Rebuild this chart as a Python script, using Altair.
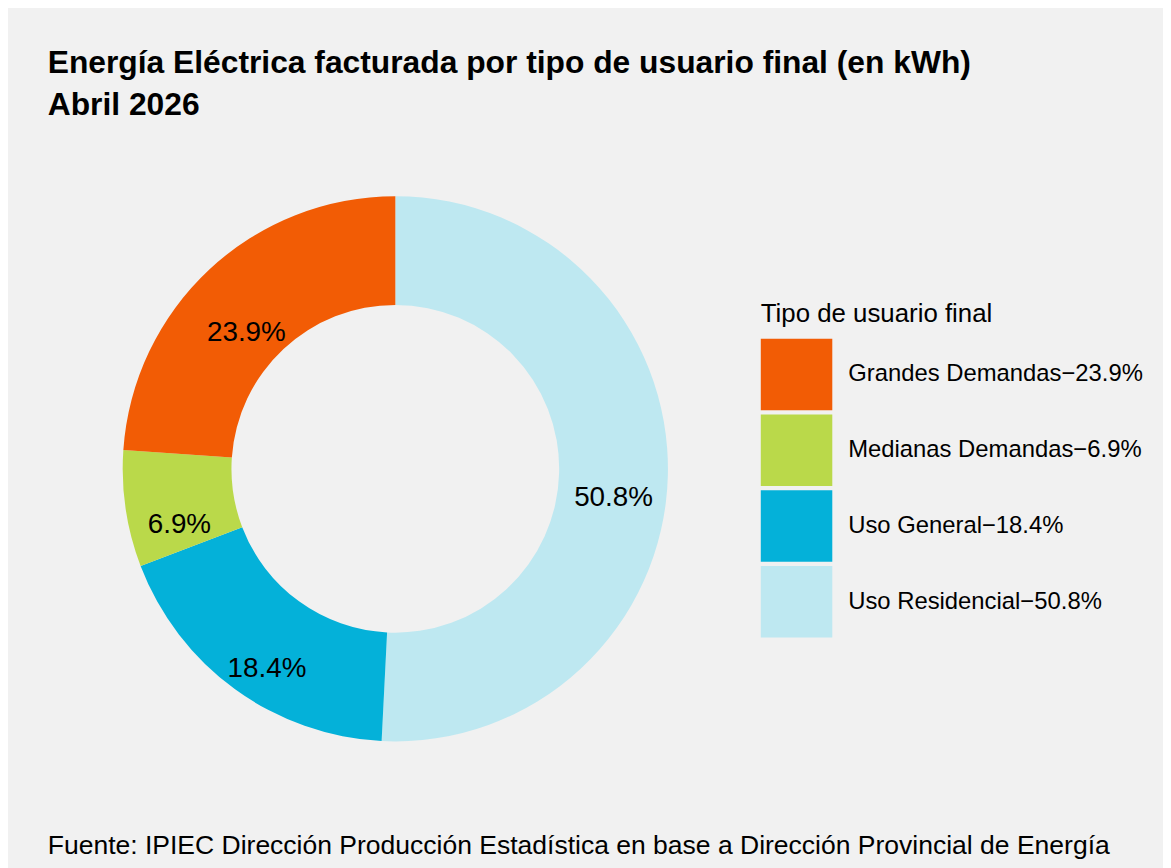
import altair as alt
import pandas as pd

# Data
categorias = ["Uso Residencial", "Uso General", "Medianas Demandas", "Grandes Demandas"]
porcentajes = [50.8, 18.4, 6.9, 23.9]
colores = {
    "Grandes Demandas": "#F25C05",
    "Medianas Demandas": "#BAD94A",
    "Uso General": "#04B1D9",
    "Uso Residencial": "#BEE8F1",
}
orden_leyenda = ["Grandes Demandas", "Medianas Demandas", "Uso General", "Uso Residencial"]

titulo = ["Energía Eléctrica facturada por tipo de usuario final (en kWh)", "Abril 2026"]
fuente = "Fuente: IPIEC Dirección Producción Estadística en base a Dirección Provincial de Energía"
titulo_leyenda = "Tipo de usuario final"

FONT = "Liberation Sans"

df = pd.DataFrame({
    "categoria": categorias,
    "valor": porcentajes,
    "orden": list(range(len(categorias))),
})
df["etiqueta"] = [f"{v}%" for v in porcentajes]
df["leyenda"] = [f"{c}\u2212{v}%" for c, v in zip(categorias, porcentajes)]

dominio = [f"{c}\u2212{porcentajes[categorias.index(c)]}%" for c in orden_leyenda]
rango = [colores[c] for c in orden_leyenda]

base = alt.Chart(df).encode(
    theta=alt.Theta("valor:Q", stack=True),
    order=alt.Order("orden:Q"),
)

arcs = base.mark_arc(outerRadius=274.5, innerRadius=165, stroke=None).encode(
    color=alt.Color(
        "leyenda:N",
        scale=alt.Scale(domain=dominio, range=rango),
        legend=alt.Legend(
            title=titulo_leyenda,
            orient="none",
            legendX=718,
            legendY=140,
            titleFontSize=26,
            titleFontWeight="normal",
            titleFont=FONT,
            titleColor="black",
            titlePadding=12,
            titleLimit=500,
            labelFontSize=24,
            labelFont=FONT,
            labelColor="black",
            labelOffset=16,
            symbolType="square",
            symbolSize=5184,
            symbolStrokeWidth=0,
            symbolOpacity=1,
            rowPadding=4.3,
            labelLimit=500,
        ),
    )
)

labels = base.mark_text(
    radius=219.8, dy=32, baseline="alphabetic", fontSize=28, font=FONT, color="black"
).encode(text="etiqueta:N")

footer = alt.Chart(alt.Data(values=[{"t": fuente}])).mark_text(
    align="left", baseline="alphabetic", fontSize=26.7, font=FONT, color="black"
).encode(text="t:N", x=alt.value(0), y=alt.value(697))

chart = (
    alt.layer(arcs, labels, footer)
    .properties(
        width=700,
        height=618,
        title=alt.Title(
            titulo,
            anchor="start",
            fontSize=32,
            fontWeight="bold",
            font=FONT,
            color="black",
            lineHeight=43,
            offset=40,
        ),
        background="#F1F1F1",
        padding={"left": 40, "top": 152, "right": 423, "bottom": 90},
        autosize=alt.AutoSizeParams(type="none"),
    )
    .configure_view(stroke=None)
)

chart.save("out.html", embed_options={"renderer": "svg", "actions": False})
